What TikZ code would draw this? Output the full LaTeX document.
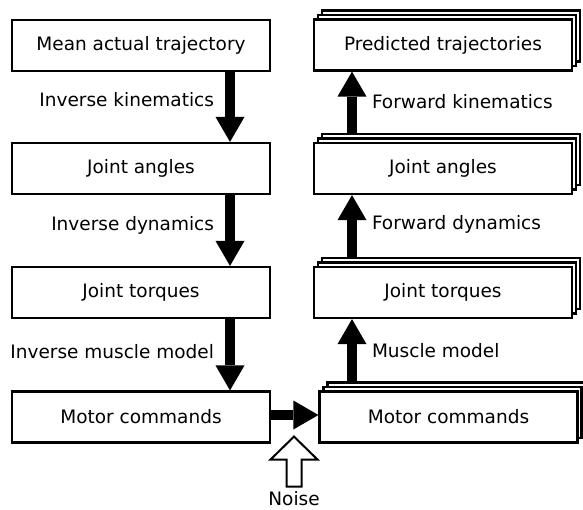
\documentclass[tikz,border=0pt]{standalone}
\usepackage{fontspec}
\setmainfont{DejaVu Sans}
\usetikzlibrary{arrows.meta,shadows}
\tikzset{
  box/.style={draw, line width=2.2pt, fill=white, minimum width=258pt, minimum height=51pt, inner sep=0pt, font=\fontsize{18.5}{22}\selectfont},
  stack/.style={box, double copy shadow={shadow xshift=4pt, shadow yshift=4.5pt}},
  bigarrow/.style={line width=10pt, -{Triangle[length=25pt, width=29pt, line width=0pt]}},
  openarrow/.style={draw, fill=white, line width=2pt, line join=miter},
  lbl/.style={font=\fontsize{18.5}{22}\selectfont, inner sep=2pt, text height=13pt, text depth=3.5pt},
}
\begin{document}
\begin{tikzpicture}[x=1pt, y=-1pt]
		\useasboundingbox (0,0) rectangle (583,509);
		\node[box] (mat) at (141, 45.5) {Mean actual trajectory};
		\node[box] (jal) at (141, 168.5) {Joint angles};
		\node[box] (jtl) at (141, 292.5) {Joint torques};
		\node[box] (mcl) at (141, 417) {Motor commands};
		\node[stack] (ptr) at (443, 45) {Predicted trajectories};
		\node[stack] (jar) at (443, 168.5) {Joint angles};
		\node[stack] (jtr) at (443, 292.5) {Joint torques};
		\node[stack] (mcr) at (448.5, 417) {Motor commands};
		\draw[bigarrow] ([xshift=89pt]mat.south) -- node[lbl, pos=.42, left=9pt] {Inverse kinematics} ([xshift=89pt]jal.north);
		\draw[bigarrow] ([xshift=89pt]jal.south) -- node[lbl, pos=.43, left=9pt] {Inverse dynamics} ([xshift=89pt]jtl.north);
		\draw[bigarrow] ([xshift=89pt]jtl.south) -- node[lbl, pos=.49, left=9pt] {Inverse muscle model} ([xshift=89pt]mcl.north);
		\draw[bigarrow] ([xshift=-91pt, yshift=7pt]jar.north) -- node[lbl, pos=.5, right=13pt] {Forward kinematics} ([xshift=-91pt]ptr.south);
		\draw[bigarrow] ([xshift=-91pt, yshift=9pt]jtr.north) -- node[lbl, pos=.52, right=13pt] {Forward dynamics} ([xshift=-91pt]jar.south);
		\draw[bigarrow] ([xshift=-96.5pt, yshift=9pt]mcr.north) -- node[lbl, pos=.46, right=13pt] {Muscle model} ([xshift=-91pt]jtr.south);
		\draw[bigarrow] ([yshift=2pt]mcl.east) -- ([yshift=2pt]mcr.west);
		\node[lbl] (noise) at (294, 501) {Noise};
		\draw[openarrow] ([yshift=4pt]noise.north) ++(-7.5,0) -- ++(0,-27) -- ++(-16,0) -- ++(23.5,-23) -- ++(23.5,23) -- ++(-16,0) -- ++(0,27) -- cycle;
	\end{tikzpicture}
\end{document}
